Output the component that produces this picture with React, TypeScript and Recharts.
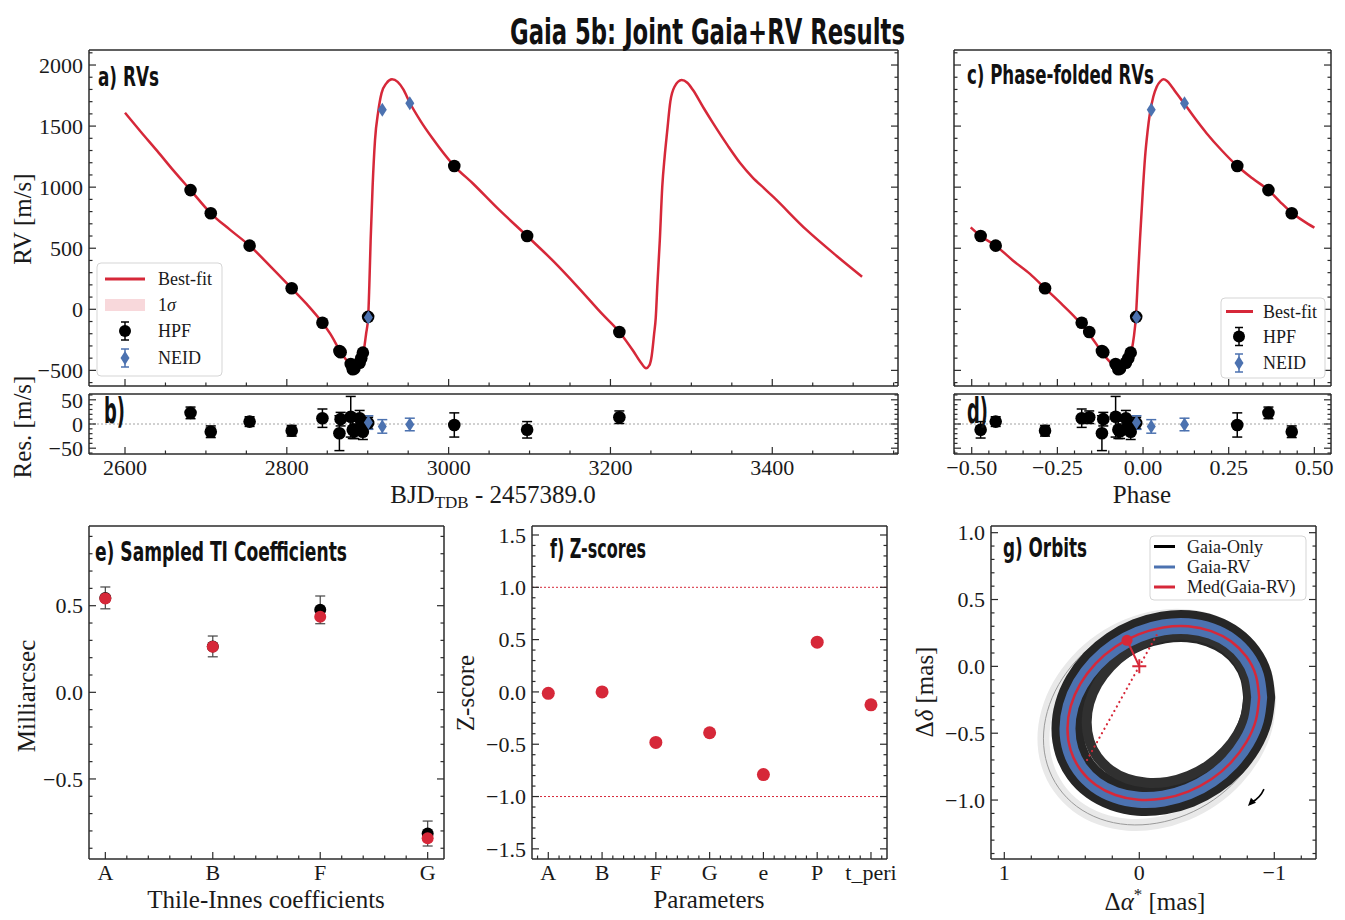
import React from 'react'
import { ComposedChart, Line, Scatter, XAxis, YAxis, ErrorBar, ReferenceLine, ReferenceDot } from 'recharts'

const RED = '#d62839'
const BLUE = '#4c72b0'
const INK = '#2b2b2b'
const SERIF = "'Liberation Serif', 'DejaVu Serif', serif"
const COND = "'Liberation Sans Narrow', 'DejaVu Sans Condensed', 'DejaVu Sans', sans-serif"

// a) best-fit RV model (BJD - 2457389.0, m/s)
const RV_MODEL_T = [
  2600, 2620, 2640, 2660, 2681, 2706, 2730, 2754, 2780, 2806, 2825, 2844, 2856, 2866, 2874, 2880, 2884, 2888,
  2891, 2894, 2896, 2898, 2900.5, 2902, 2903.6, 2906, 2909, 2913, 2917, 2923, 2930, 2937, 2944, 2952, 2965,
  2980, 3007, 3030, 3060, 3097, 3130, 3160, 3190, 3211, 3228, 3238, 3244, 3248, 3251, 3254, 3256, 3258, 3261,
  3264, 3267, 3270, 3274, 3279, 3288, 3295, 3302, 3315, 3327, 3345, 3360, 3375, 3390, 3401, 3442, 3480, 3511,
]
const RV_MODEL_V = [
  1609, 1450, 1295, 1135, 976, 786, 650, 521, 350, 172, 40, -110, -225, -345, -420, -470, -495, -490,
  -456, -380, -300, -200, -68, 200, 566, 1000, 1385, 1620, 1768, 1850, 1883, 1862, 1800, 1691, 1545,
  1400, 1173, 1030, 830, 600, 390, 180, -40, -186, -340, -440, -483, -460, -380, -200, -68, 200, 566,
  1000, 1250, 1450, 1700, 1820, 1877, 1855, 1795, 1650, 1522, 1340, 1200, 1085, 990, 922, 652, 435, 267,
]

// HPF
const HPF_T = [2681, 2706, 2754, 2806, 2844, 2865, 2866.5, 2879, 2881.5, 2883.5, 2890, 2892, 2894, 2900.5, 3007, 3097, 3211]
const HPF_PHASE = [0.366, 0.434, -0.43, -0.286, -0.179, -0.12, -0.116, -0.08, -0.072, -0.067, -0.05, -0.043, -0.036, -0.02, 0.275, -0.474, -0.157]
const HPF_RV = [976, 786, 521, 172, -110, -342, -352, -448, -491, -485, -437, -401, -355, -62, 1173, 600, -186]
const HPF_RES = [23, -16, 5, -14, 12, -19, 10, 15, -12, -15, 12, -4, -16, 2, -2, -12, 14]
const HPF_ERR = [12, 12, 10, 11, 19, 36, 14, 42, 18, 15, 16, 18, 16, 12, 25, 17, 13]

// NEID
const NEID_T = [2900.8, 2918, 2952]
const NEID_PHASE = [-0.019, 0.024, 0.121]
const NEID_RV = [-68, 1634, 1688]
const NEID_RES = [3, -5, -1]
const NEID_ERR = [14, 14, 13]

// c) phase-folded model
const PHASE_MODEL_P = [
  -0.503, -0.474, -0.43, -0.38, -0.33, -0.286, -0.24, -0.184, -0.15, -0.121, -0.1, -0.077, -0.067, -0.057,
  -0.048, -0.04, -0.033, -0.027, -0.021, -0.015, -0.009, 0.0, 0.006, 0.013, 0.02, 0.03, 0.04, 0.05, 0.059,
  0.07, 0.084, 0.1, 0.12, 0.15, 0.186, 0.23, 0.275, 0.32, 0.366, 0.4, 0.436, 0.47, 0.5,
]
const PHASE_MODEL_V = [
  671, 600, 521, 400, 290, 172, 50, -110, -230, -347, -420, -480, -495, -490,
  -456, -410, -333, -230, -68, 250, 567, 1000, 1249, 1450, 1604, 1740, 1822, 1865, 1883,
  1870, 1822, 1760, 1686, 1570, 1440, 1300, 1173, 1070, 976, 880, 786, 720, 668,
]

// e) Thiele-Innes coefficients (mas)
const TI_LABELS = ['A', 'B', 'F', 'G']
const TI_GAIA = [0.545, 0.265, 0.476, -0.815]
const TI_GAIA_ERR = [0.063, 0.06, 0.08, 0.072]
const TI_JOINT = [0.542, 0.263, 0.436, -0.842]

// f) Z-scores
const Z_LABELS = ['A', 'B', 'F', 'G', 'e', 'P', 't_peri']
const Z_SCORES = [-0.013, 0.0, -0.483, -0.39, -0.79, 0.476, -0.123]

// g) orbits (mas): median Gaia-RV orbit, inner / outer edge of the Gaia-only cloud
const ORB_MED_X = [-0.888, -0.864, -0.793, -0.68, -0.533, -0.362, -0.178, 0.006, 0.177, 0.324, 0.437, 0.508, 0.532, 0.508, 0.437, 0.324, 0.177, 0.006, -0.178, -0.362, -0.533, -0.68, -0.793, -0.864, -0.888]
const ORB_MED_Y = [-0.232, -0.07, 0.073, 0.187, 0.264, 0.3, 0.291, 0.239, 0.147, 0.021, -0.131, -0.297, -0.467, -0.628, -0.771, -0.885, -0.962, -0.998, -0.989, -0.937, -0.845, -0.719, -0.567, -0.401, -0.232]
const ORB_IN_X = [-0.81, -0.79, -0.73, -0.634, -0.51, -0.365, -0.21, -0.055, 0.09, 0.214, 0.31, 0.37, 0.39, 0.37, 0.31, 0.214, 0.09, -0.055, -0.21, -0.365, -0.51, -0.634, -0.73, -0.79, -0.81]
const ORB_IN_Y = [-0.218, -0.08, 0.042, 0.139, 0.205, 0.235, 0.228, 0.183, 0.105, -0.003, -0.132, -0.274, -0.418, -0.556, -0.678, -0.775, -0.841, -0.871, -0.864, -0.819, -0.741, -0.633, -0.504, -0.363, -0.218]
const ORB_OUT_X = [-0.97, -0.941, -0.857, -0.724, -0.55, -0.347, -0.13, 0.087, 0.29, 0.464, 0.597, 0.681, 0.71, 0.681, 0.597, 0.464, 0.29, 0.087, -0.13, -0.347, -0.55, -0.724, -0.857, -0.941, -0.97]
const ORB_OUT_Y = [-0.258, -0.063, 0.109, 0.247, 0.341, 0.383, 0.373, 0.31, 0.199, 0.046, -0.136, -0.337, -0.542, -0.737, -0.909, -1.047, -1.141, -1.184, -1.173, -1.11, -0.999, -0.846, -0.664, -0.463, -0.258]
const NODES_X = [0.387, -0.143]
const NODES_Y = [-0.7, 0.26]
const PERI_X = [0.091, 0.0]
const PERI_Y = [0.195, 0.0]

// major tick values
const RV_T_TICKS = [2600, 2800, 3000, 3200, 3400]
const RV_V_TICKS = [-500, 0, 500, 1000, 1500, 2000]
const RES_TICKS = [-50, 0, 50]
const PHASE_TICKS = [-0.5, -0.25, 0, 0.25, 0.5]
const TI_Y_TICKS = [-0.5, 0, 0.5]
const Z_Y_TICKS = [-1.5, -1, -0.5, 0, 0.5, 1, 1.5]
const ORB_X_TICKS = [-1, 0, 1]
const ORB_Y_TICKS = [-1, -0.5, 0, 0.5, 1]

const zip = (xs: number[], ys: number[], err?: number[]) =>
  xs.map((x, i) => ({ x, y: ys[i], err: err ? err[i] : 0 }))

const minus = (s: string) => s.replace('-', '\u2212')
const fmtInt = (v: number) => minus(String(v))
const fmt1 = (v: number) => minus(v.toFixed(1))
const fmt2 = (v: number) => minus(v.toFixed(2))

interface Scale {
  domain: [number, number]
  majors: number[]
  minor: number
  fmt: (v: number) => string
  reversed?: boolean
}

const SC_T: Scale = { domain: [2555.5, 3555.4], majors: RV_T_TICKS, minor: 50, fmt: fmtInt }
const SC_RV: Scale = { domain: [-628, 2123], majors: RV_V_TICKS, minor: 100, fmt: fmtInt }
const SC_RES: Scale = { domain: [-62, 62], majors: RES_TICKS, minor: 10, fmt: fmtInt }
const SC_PH: Scale = { domain: [-0.5517, 0.5486], majors: PHASE_TICKS, minor: 0.05, fmt: fmt2 }
const SC_TI_X: Scale = { domain: [-0.152, 3.152], majors: TI_LABELS.map((_, i) => i), minor: 0.2, fmt: (v) => TI_LABELS[Math.round(v)] }
const SC_TI_Y: Scale = { domain: [-0.962, 0.96], majors: TI_Y_TICKS, minor: 0.1, fmt: fmt1 }
const SC_Z_X: Scale = { domain: [-0.303, 6.298], majors: Z_LABELS.map((_, i) => i), minor: 0.2, fmt: (v) => Z_LABELS[Math.round(v)] }
const SC_Z_Y: Scale = { domain: [-1.597, 1.586], majors: Z_Y_TICKS, minor: 0.1, fmt: fmt1 }
const SC_OX: Scale = { domain: [-1.309, 1.0985], majors: ORB_X_TICKS, minor: 0.2, fmt: fmtInt, reversed: true }
const SC_OY: Scale = { domain: [-1.441, 1.05], majors: ORB_Y_TICKS, minor: 0.1, fmt: fmt1 }

function allTicks(s: Scale) {
  const [a, b] = s.domain
  const out = [...s.majors]
  for (let k = Math.ceil(a / s.minor - 1e-9); k * s.minor <= b + 1e-9; k++) {
    const v = Math.round(k * s.minor * 1e6) / 1e6
    if (!out.some((m) => Math.abs(m - v) < 1e-6)) out.push(v)
  }
  return out.sort((p, q) => p - q)
}

type Side = 'bottom' | 'top' | 'left' | 'right'

function mkTick(side: Side, s: Scale, labels: boolean) {
  return (props: any) => {
    const { x, y, payload } = props
    const v = payload.value as number
    const major = s.majors.some((m) => Math.abs(m - v) < 1e-6)
    const len = major ? 7 : 3.5
    const l =
      side === 'bottom' ? [x, y, x, y - len] : side === 'top' ? [x, y, x, y + len] : side === 'left' ? [x, y, x + len, y] : [x, y, x - len, y]
    return (
      <g>
        <line x1={l[0]} y1={l[1]} x2={l[2]} y2={l[3]} stroke={INK} strokeWidth={1.2} />
        {major && labels && side === 'bottom' && (
          <text x={x} y={y + 5} dy="0.71em" textAnchor="middle" fontFamily={SERIF} fontSize={22} fill="#1a1a1a">
            {s.fmt(v)}
          </text>
        )}
        {major && labels && side === 'left' && (
          <text x={x - 6} y={y} dy="0.35em" textAnchor="end" fontFamily={SERIF} fontSize={22} fill="#1a1a1a">
            {s.fmt(v)}
          </text>
        )}
      </g>
    )
  }
}

const PAD = { l: 80, r: 30, t: 10, b: 40 }
interface Box { left: number; top: number; width: number; height: number }

const AXIS_LINE = { stroke: INK, strokeWidth: 1.5 }

function Panel(props: { box: Box; xs: Scale; ys: Scale; xLab?: boolean; yLab?: boolean; children?: React.ReactNode }) {
  const { box, xs, ys, xLab = true, yLab = true, children } = props
  const xt = allTicks(xs)
  const yt = allTicks(ys)
  const common = { type: 'number' as const, allowDataOverflow: true, interval: 0 as const, tickLine: false, tickSize: 0, tickMargin: 0, axisLine: AXIS_LINE }
  return (
    <div style={{ position: 'absolute', left: box.left - PAD.l, top: box.top - PAD.t }}>
      <ComposedChart
        width={box.width + PAD.l + PAD.r}
        height={box.height + PAD.t + PAD.b}
        margin={{ top: PAD.t - 1, right: PAD.r - 1, bottom: 0, left: 0 }}
      >
        <XAxis {...common} dataKey="x" domain={xs.domain} ticks={xt} reversed={xs.reversed} height={PAD.b} tick={mkTick('bottom', xs, xLab)} />
        <XAxis {...common} xAxisId="top" orientation="top" domain={xs.domain} ticks={xt} reversed={xs.reversed} height={1} tick={mkTick('top', xs, false)} />
        <YAxis {...common} dataKey="y" domain={ys.domain} ticks={yt} width={PAD.l} tick={mkTick('left', ys, yLab)} />
        <YAxis {...common} yAxisId="right" orientation="right" domain={ys.domain} ticks={yt} width={1} tick={mkTick('right', ys, false)} />
        {children}
      </ComposedChart>
    </div>
  )
}

const blackDot = (r: number) => (p: any) => <circle cx={p.cx} cy={p.cy} r={r} fill="#000" />
const redDot = (r: number) => (p: any) => <circle cx={p.cx} cy={p.cy} r={r} fill={RED} />
const diamond = (p: any) => (
  <path d={`M${p.cx},${p.cy - 7}L${p.cx + 4.5},${p.cy}L${p.cx},${p.cy + 7}L${p.cx - 4.5},${p.cy}Z`} fill={BLUE} />
)
const plus = (p: any) => (
  <path d={`M${p.cx - 7},${p.cy}H${p.cx + 7}M${p.cx},${p.cy - 7}V${p.cy + 7}`} stroke={RED} strokeWidth={2} />
)
const arrow = (p: any) => (
  <g>
    <path d={`M${p.cx + 16},${p.cy - 17} Q${p.cx + 12},${p.cy - 8} ${p.cx + 4},${p.cy - 4}`} stroke="#000" strokeWidth={1.6} fill="none" />
    <path d={`M${p.cx},${p.cy} L${p.cx + 8},${p.cy - 3.4} L${p.cx + 3},${p.cy - 8.2} Z`} fill="#000" />
  </g>
)

const BOX_A: Box = { left: 89, top: 50, width: 809, height: 336 }
const BOX_B: Box = { left: 89, top: 394, width: 809, height: 60 }
const BOX_C: Box = { left: 954, top: 50, width: 377, height: 336 }
const BOX_D: Box = { left: 954, top: 394, width: 377, height: 60 }
const BOX_E: Box = { left: 89, top: 526, width: 355, height: 333 }
const BOX_F: Box = { left: 532, top: 526, width: 355, height: 333 }
const BOX_G: Box = { left: 991, top: 526, width: 325, height: 333 }

function ErrGlyph({ cx, cy, color, kind }: { cx: number; cy: number; color: string; kind: 'circle' | 'diamond' }) {
  return (
    <g>
      <g stroke={color} strokeWidth={1.5}>
        <line x1={cx} y1={cy - 9} x2={cx} y2={cy + 9} />
        <line x1={cx - 4} y1={cy - 9} x2={cx + 4} y2={cy - 9} />
        <line x1={cx - 4} y1={cy + 9} x2={cx + 4} y2={cy + 9} />
      </g>
      {kind === 'circle' ? (
        <circle cx={cx} cy={cy} r={6} fill="#000" />
      ) : (
        <path d={`M${cx},${cy - 7}L${cx + 4.5},${cy}L${cx},${cy + 7}L${cx - 4.5},${cy}Z`} fill={BLUE} />
      )}
    </g>
  )
}

function Overlay() {
  const lab = { fontFamily: SERIF, fontSize: 25, fill: '#1a1a1a' }
  const head = { fontFamily: COND, fontWeight: 700, fill: '#111', lengthAdjust: 'spacingAndGlyphs' as const }
  const leg = { fontFamily: SERIF, fontSize: 18, fill: '#1a1a1a' }
  const legBox = { fill: '#fff', fillOpacity: 0.85, stroke: '#d5d5d5', strokeWidth: 1, rx: 4 }
  return (
    <svg width={1345} height={920} style={{ position: 'absolute', left: 0, top: 0, pointerEvents: 'none' }}>
      <text x={510} y={44} fontSize={36} textLength={395} {...head}>Gaia 5b: Joint Gaia+RV Results</text>
      <text x={98} y={86} fontSize={27} textLength={61} {...head}>a) RVs</text>
      <text x={104} y={423} fontSize={36} textLength={21} {...head}>b)</text>
      <text x={967} y={84} fontSize={27} textLength={187} {...head}>c) Phase-folded RVs</text>
      <text x={967} y={423} fontSize={36} textLength={21} {...head}>d)</text>
      <text x={95} y={561} fontSize={27} textLength={252} {...head}>e) Sampled TI Coefficients</text>
      <text x={550} y={558} fontSize={27} textLength={96} {...head}>f) Z-scores</text>
      <text x={1003} y={557} fontSize={27} textLength={84} {...head}>g) Orbits</text>

      <text transform="translate(31,219) rotate(-90)" textAnchor="middle" {...lab}>RV [m/s]</text>
      <text transform="translate(31,427) rotate(-90)" textAnchor="middle" {...lab}>Res. [m/s]</text>
      <text x={493} y={503} textAnchor="middle" {...lab}>
        BJD<tspan fontSize={17} dy={5}>TDB</tspan>
        <tspan dy={-5}> - 2457389.0</tspan>
      </text>
      <text x={1142} y={503} textAnchor="middle" {...lab}>Phase</text>
      <text transform="translate(35,696) rotate(-90)" textAnchor="middle" {...lab}>Milliarcsec</text>
      <text x={266} y={908} textAnchor="middle" {...lab}>Thile-Innes coefficients</text>
      <text transform="translate(474,693) rotate(-90)" textAnchor="middle" {...lab}>Z-score</text>
      <text x={709} y={908} textAnchor="middle" {...lab}>Parameters</text>
      <text transform="translate(933,692) rotate(-90)" textAnchor="middle" {...lab}>
        Δ<tspan fontStyle="italic">δ</tspan> [mas]
      </text>
      <text x={1155} y={910} textAnchor="middle" {...lab}>
        Δ<tspan fontStyle="italic">α</tspan>
        <tspan fontSize={17} dy={-10}>*</tspan>
        <tspan dy={10}> [mas]</tspan>
      </text>

      {/* legend a */}
      <rect x={97} y={263} width={125} height={113} {...legBox} />
      <line x1={105} x2={145} y1={279} y2={279} stroke={RED} strokeWidth={3} />
      <text x={158} y={285} {...leg}>Best-fit</text>
      <rect x={105} y={299} width={40} height={12} fill={RED} fillOpacity={0.18} />
      <text x={158} y={311} {...leg}>1<tspan fontStyle="italic">σ</tspan></text>
      <ErrGlyph cx={125} cy={331} color="#000" kind="circle" />
      <text x={158} y={337} {...leg}>HPF</text>
      <ErrGlyph cx={125} cy={358} color={BLUE} kind="diamond" />
      <text x={158} y={364} {...leg}>NEID</text>

      {/* legend c */}
      <rect x={1221} y={298} width={104} height={80} {...legBox} />
      <line x1={1226} x2={1253} y1={311.5} y2={311.5} stroke={RED} strokeWidth={3} />
      <text x={1263} y={317.5} {...leg}>Best-fit</text>
      <ErrGlyph cx={1239} cy={336.5} color="#000" kind="circle" />
      <text x={1263} y={342.5} {...leg}>HPF</text>
      <ErrGlyph cx={1239} cy={363} color={BLUE} kind="diamond" />
      <text x={1263} y={369} {...leg}>NEID</text>

      {/* legend g */}
      <rect x={1150} y={536} width={156} height={64} {...legBox} />
      <line x1={1154} x2={1175} y1={546.5} y2={546.5} stroke="#000" strokeWidth={3} />
      <text x={1187} y={552.5} {...leg}>Gaia-Only</text>
      <line x1={1154} x2={1175} y1={567} y2={567} stroke={BLUE} strokeWidth={3} />
      <text x={1187} y={573} {...leg}>Gaia-RV</text>
      <line x1={1154} x2={1175} y1={587} y2={587} stroke={RED} strokeWidth={3} />
      <text x={1187} y={593} {...leg}>Med(Gaia-RV)</text>
    </svg>
  )
}

export default function App() {
  const rvModel = zip(RV_MODEL_T, RV_MODEL_V)
  const hpfRV = zip(HPF_T, HPF_RV, HPF_ERR)
  const neidRV = zip(NEID_T, NEID_RV, NEID_ERR)
  const hpfRes = zip(HPF_T, HPF_RES, HPF_ERR)
  const neidRes = zip(NEID_T, NEID_RES, NEID_ERR)
  const phModel = zip(PHASE_MODEL_P, PHASE_MODEL_V)
  const hpfPh = zip(HPF_PHASE, HPF_RV, HPF_ERR)
  const neidPh = zip(NEID_PHASE, NEID_RV, NEID_ERR)
  const hpfPhRes = zip(HPF_PHASE, HPF_RES, HPF_ERR)
  const neidPhRes = zip(NEID_PHASE, NEID_RES, NEID_ERR)
  const tiGaia = zip(TI_LABELS.map((_, i) => i), TI_GAIA, TI_GAIA_ERR)
  const tiJoint = zip(TI_LABELS.map((_, i) => i), TI_JOINT)
  const zs = zip(Z_LABELS.map((_, i) => i), Z_SCORES)
  const orbMed = zip(ORB_MED_X, ORB_MED_Y)
  const orbIn = zip(ORB_IN_X, ORB_IN_Y)
  const orbOut = zip(ORB_OUT_X, ORB_OUT_Y)
  const nodes = zip(NODES_X, NODES_Y)
  const peri = zip(PERI_X, PERI_Y)

  const ebBlack = { dataKey: 'err', direction: 'y' as const, width: 5, stroke: '#000', strokeWidth: 1.5 }
  const ebBlue = { dataKey: 'err', direction: 'y' as const, width: 5, stroke: BLUE, strokeWidth: 1.5 }
  const noAnim = { isAnimationActive: false }
  const curve = { dataKey: 'y', dot: false, activeDot: false, isAnimationActive: false, strokeLinejoin: 'round' as const }
  const ring = { ...curve, type: 'natural' as const, strokeLinecap: 'round' as const }

  return (
    <div style={{ position: 'absolute', left: 0, top: 0, width: 1345, height: 920, background: '#fff', overflow: 'hidden' }}>
      {/* a) RVs */}
      <Panel box={BOX_A} xs={SC_T} ys={SC_RV} xLab={false}>
        <Line {...curve} data={rvModel} type="monotone" stroke={RED} strokeWidth={2.5} />
        <Scatter data={hpfRV} dataKey="y" shape={blackDot(6.3)} {...noAnim} />
        <Scatter data={neidRV} dataKey="y" shape={diamond} {...noAnim} />
      </Panel>

      {/* b) residuals */}
      <Panel box={BOX_B} xs={SC_T} ys={SC_RES}>
        <ReferenceLine y={0} stroke="#8a8a8a" strokeWidth={0.8} strokeDasharray="2 2" />
        <Scatter data={hpfRes} dataKey="y" shape={blackDot(6.3)} {...noAnim}>
          <ErrorBar {...ebBlack} />
        </Scatter>
        <Scatter data={neidRes} dataKey="y" shape={diamond} {...noAnim}>
          <ErrorBar {...ebBlue} />
        </Scatter>
      </Panel>

      {/* c) phase-folded */}
      <Panel box={BOX_C} xs={SC_PH} ys={SC_RV} xLab={false} yLab={false}>
        <Line {...curve} data={phModel} type="monotone" stroke={RED} strokeWidth={2.5} />
        <Scatter data={hpfPh} dataKey="y" shape={blackDot(6.3)} {...noAnim} />
        <Scatter data={neidPh} dataKey="y" shape={diamond} {...noAnim} />
      </Panel>

      {/* d) phase residuals */}
      <Panel box={BOX_D} xs={SC_PH} ys={SC_RES} yLab={false}>
        <ReferenceLine y={0} stroke="#8a8a8a" strokeWidth={0.8} strokeDasharray="2 2" />
        <Scatter data={hpfPhRes} dataKey="y" shape={blackDot(6.3)} {...noAnim}>
          <ErrorBar {...ebBlack} />
        </Scatter>
        <Scatter data={neidPhRes} dataKey="y" shape={diamond} {...noAnim}>
          <ErrorBar {...ebBlue} />
        </Scatter>
      </Panel>

      {/* e) TI coefficients */}
      <Panel box={BOX_E} xs={SC_TI_X} ys={SC_TI_Y}>
        <Scatter data={tiGaia} dataKey="y" shape={blackDot(6)} {...noAnim}>
          <ErrorBar dataKey="err" direction="y" width={5} stroke="#444" strokeWidth={1.2} />
        </Scatter>
        <Scatter data={tiJoint} dataKey="y" shape={redDot(6)} {...noAnim} />
      </Panel>

      {/* f) Z-scores */}
      <Panel box={BOX_F} xs={SC_Z_X} ys={SC_Z_Y}>
        <ReferenceLine y={1} stroke={RED} strokeWidth={1} strokeDasharray="2 2" />
        <ReferenceLine y={-1} stroke={RED} strokeWidth={1} strokeDasharray="2 2" />
        <Scatter data={zs} dataKey="y" shape={redDot(6.5)} {...noAnim} />
      </Panel>

      {/* g) orbits */}
      <Panel box={BOX_G} xs={SC_OX} ys={SC_OY}>
        <Line {...ring} data={orbOut} stroke="#e9e9e9" strokeWidth={12} />
        <Line {...ring} data={orbOut} stroke="#9a9a9a" strokeWidth={1} />
        <Line {...ring} data={orbMed} stroke="#262626" strokeWidth={32} />
        <Line {...ring} data={orbIn} stroke="#303030" strokeWidth={10} />
        <Line {...ring} data={orbMed} stroke={BLUE} strokeWidth={16} />
        <Line {...ring} data={orbMed} stroke={RED} strokeWidth={2.5} />
        <Line {...curve} data={nodes} type="linear" stroke={RED} strokeWidth={2.2} strokeDasharray="0.1 5" strokeLinecap="round" />
        <Line {...curve} data={peri} type="linear" stroke={RED} strokeWidth={2} />
        <Scatter data={peri.slice(0, 1)} dataKey="y" shape={redDot(5.5)} {...noAnim} />
        <Scatter data={peri.slice(1)} dataKey="y" shape={plus} {...noAnim} />
        <ReferenceDot x={-0.805} y={-1.045} shape={arrow} ifOverflow="visible" />
      </Panel>

      <Overlay />
    </div>
  )
}
